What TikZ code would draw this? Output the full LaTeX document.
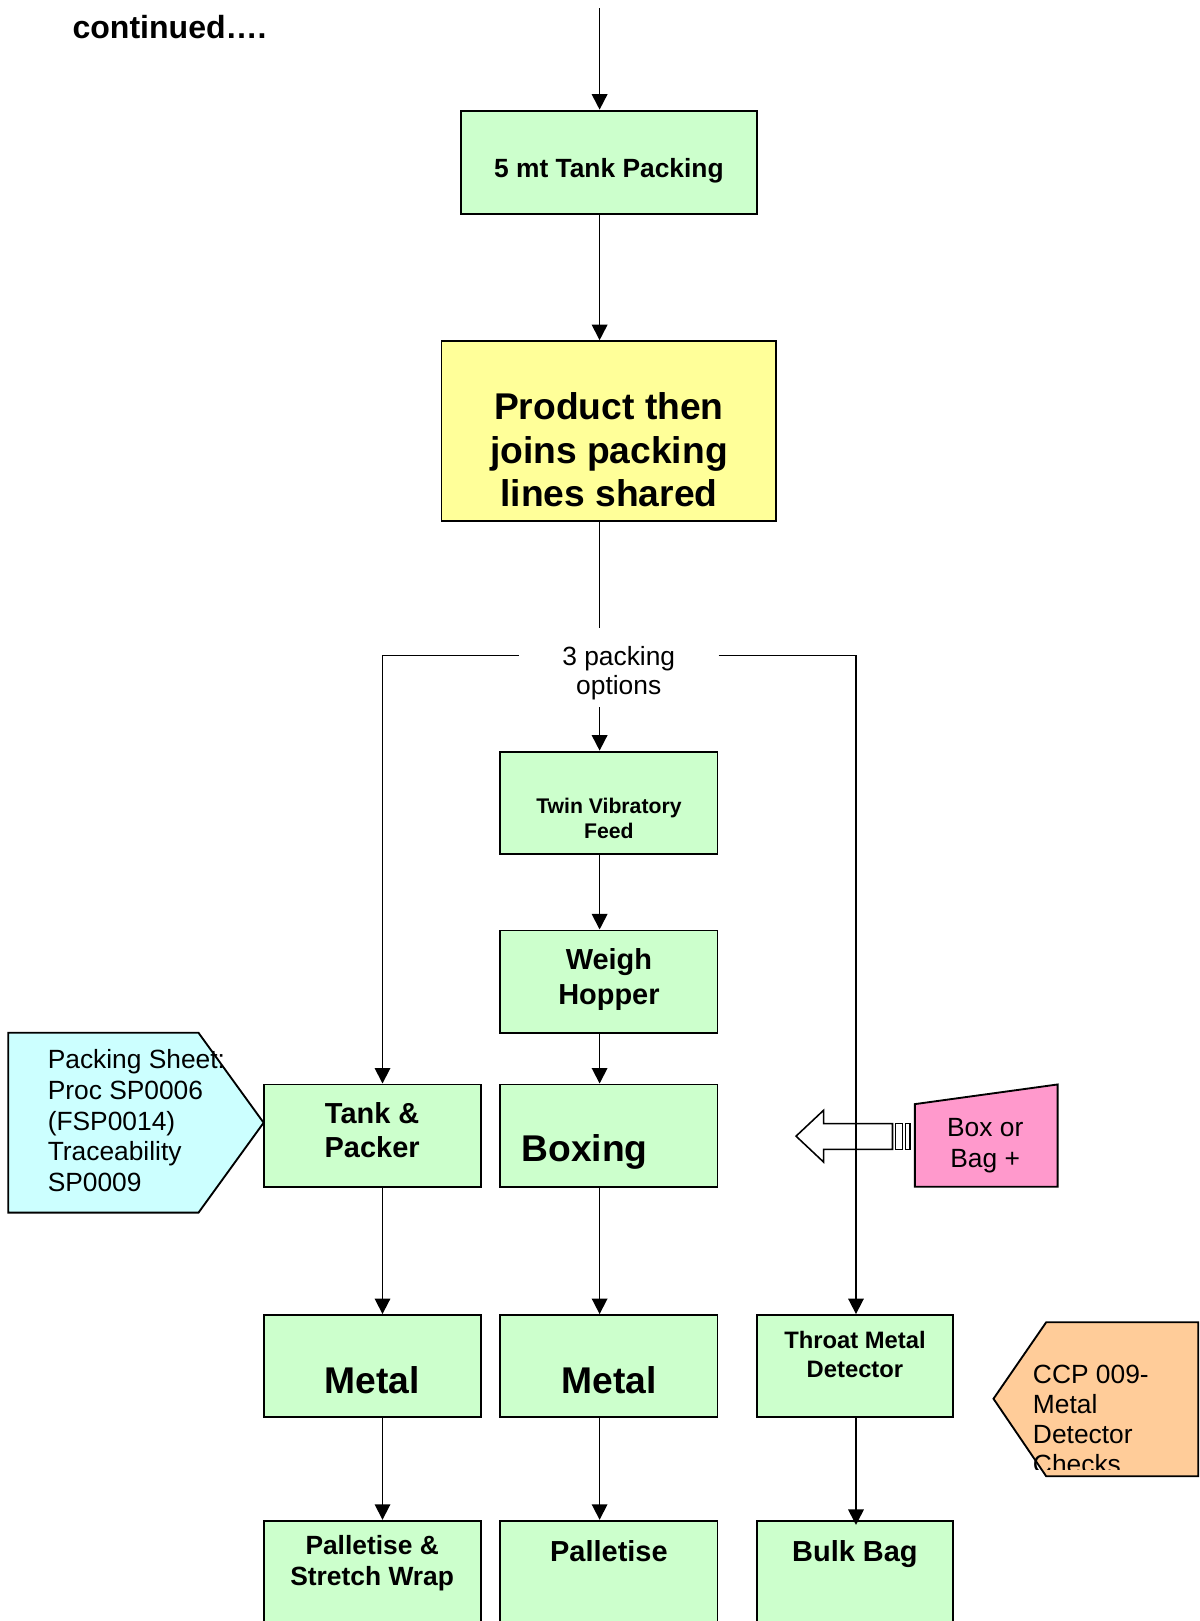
\documentclass[tikz,border=0pt]{standalone}
\usepackage{fontspec}
\setmainfont{Liberation Sans}
\usetikzlibrary{arrows.meta}
\definecolor{pgreen}{HTML}{CCFFCC}
\definecolor{pyellow}{HTML}{FFFF99}
\definecolor{pcyan}{HTML}{CCFFFF}
\definecolor{ppink}{HTML}{FF99CC}
\definecolor{porange}{HTML}{FFCC99}
\tikzset{
  box/.style={draw, line width=1.8pt, fill=pgreen, inner sep=0pt, minimum width=210pt, minimum height=99pt},
  arr/.style={line width=1.7pt, -{Triangle[length=15pt,width=15pt]}},
  conn/.style={line width=1.7pt},
  tb20/.style={font=\bfseries\fontsize{20.5}{24}\selectfont, align=center},
  tb23/.style={font=\bfseries\fontsize{23}{28}\selectfont, align=center},
  tb25/.style={font=\bfseries\fontsize{25.5}{30}\selectfont, align=center},
  tb28/.style={font=\bfseries\fontsize{28}{33}\selectfont, align=center},
  tb36/.style={font=\bfseries\fontsize{36}{42}\selectfont, align=center},
  tr25/.style={font=\fontsize{25.5}{28}\selectfont, align=center},
  tr25l/.style={font=\fontsize{25.5}{29.6}\selectfont, align=left},
}
\begin{document}
\begin{tikzpicture}[x=1pt,y=-1pt]
\useasboundingbox (0,0) rectangle (1160,1568);
\clip (0,0) rectangle (1160,1568);

% column coordinates
\coordinate (cL) at (370,0);
\coordinate (cC) at (580,0);
\coordinate (cR) at (828,0);
\coordinate (top) at (580,8);

% heading
\node[anchor=base west, inner sep=0pt, font=\bfseries\fontsize{31}{36}\selectfont] (cont) at (70,37) {continued….};

% side shapes
\path[draw, line width=1.8pt, fill=pcyan] (8,999) -- (192,999) -- (255,1086) -- (192,1173) -- (8,1173) -- cycle;
\node[tr25l, anchor=west, inner sep=0pt] (sheet) at (46,1084) {Packing Sheet:\\Proc SP0006\\(FSP0014)\\Traceability\\SP0009};

\path[draw, line width=1.8pt, fill=ppink] (885,1068) -- (1023,1049) -- (1023,1148) -- (885,1148) -- cycle;
\node[tr25, font=\fontsize{25.5}{30}\selectfont, inner sep=0pt] (bag) at (953,1108) {Box or\\Bag +};

\path[draw, line width=1.8pt, fill=porange] (961,1353) -- (1012,1279) -- (1159,1279) -- (1159,1428) -- (1012,1428) -- cycle;
\begin{scope}
\clip (961,1279) rectangle (1160,1421);
\node[tr25l, font=\fontsize{25.5}{29.3}\selectfont, anchor=west, inner sep=0pt] (ccp) at (999,1373) {CCP 009-\\Metal\\Detector\\Checks};
\end{scope}

% striped block arrow
\path[draw, line width=1.5pt, fill=white] (770,1099) -- (796.6,1074) -- (796.6,1086.8) -- (863.3,1086.8) -- (863.3,1111.7) -- (796.6,1111.7) -- (796.6,1124) -- cycle;
\path[draw, line width=1.5pt, fill=white] (866,1086.8) rectangle (873,1111.7);
\path[draw, line width=1.5pt, fill=white] (876,1086.8) rectangle (880.4,1111.7);

% boxes
\node[box, minimum width=286pt, minimum height=100pt,
  label={[tb25, yshift=-8pt]center:5 mt Tank Packing}] (tank5) at (589,157) {};
\node[box, fill=pyellow, minimum width=324pt, minimum height=174pt,
  label={[tb36, yshift=-18pt]center:{Product then\\joins packing\\lines shared}}] (prod) at (589,417) {};
\node[inner sep=0pt, minimum width=193pt, minimum height=76pt,
  label={[tr25, yshift=-5pt]center:{3 packing\\options}}] (lbl) at (598.5,646) {};
\node[box, label={[tb20, yshift=-15.5pt]center:{Twin Vibratory\\Feed}}] (twin) at (589,776.5) {};
\node[box, label={[tb28, yshift=2pt]center:{Weigh\\Hopper}}] (weigh) at (589,949.5) {};
\node[box, label={[tb36, xshift=-23.5pt, yshift=-15.5pt]center:Boxing}] (boxing) at (589,1098.5) {};
\node[box, label={[tb28, yshift=5pt]center:{Tank \&\\Packer}}] (tankpacker) at (360,1098.5) {};
\node[box, label={[tb36, yshift=-13.5pt]center:Metal}] (metal1) at (360,1321.5) {};
\node[box, label={[tb36, yshift=-13.5pt]center:Metal}] (metal2) at (589,1321.5) {};
\node[box, minimum width=190pt, label={[tb23, yshift=11.5pt]center:{Throat Metal\\Detector}}] (throat) at (827,1321.5) {};
\node[box, minimum height=100pt, label={[tb25, yshift=9pt]center:{Palletise \&\\Stretch Wrap}}] (pal1) at (360,1521) {};
\node[box, minimum height=100pt, label={[tb28, yshift=21pt]center:Palletise}] (pal2) at (589,1521) {};
\node[box, minimum width=190pt, minimum height=100pt, label={[tb28, yshift=18pt]center:Bulk Bag}] (bulk) at (827,1521) {};

% connectors
\draw[arr] (top) -- (tank5.north -| cC);
\draw[arr] (tank5.south -| cC) -- (prod.north -| cC);
\draw[conn] (prod.south -| cC) -- (lbl.north -| cC);
\draw[arr] ([yshift=12pt]lbl.west) -| (tankpacker.north -| cL);
\draw[arr] ([yshift=12pt]lbl.east) -| (throat.north -| cR);
\draw[arr] (lbl.south -| cC) -- (twin.north -| cC);
\draw[arr] (twin.south -| cC) -- (weigh.north -| cC);
\draw[arr] (weigh.south -| cC) -- (boxing.north -| cC);
\draw[arr] (boxing.south -| cC) -- (metal2.north -| cC);
\draw[arr] (metal2.south -| cC) -- (pal2.north -| cC);
\draw[arr] (tankpacker.south -| cL) -- (metal1.north -| cL);
\draw[arr] (metal1.south -| cL) -- (pal1.north -| cL);
\draw[arr, shorten >=-5pt] (throat.south -| cR) -- (bulk.north -| cR);
\end{tikzpicture}
\end{document}
